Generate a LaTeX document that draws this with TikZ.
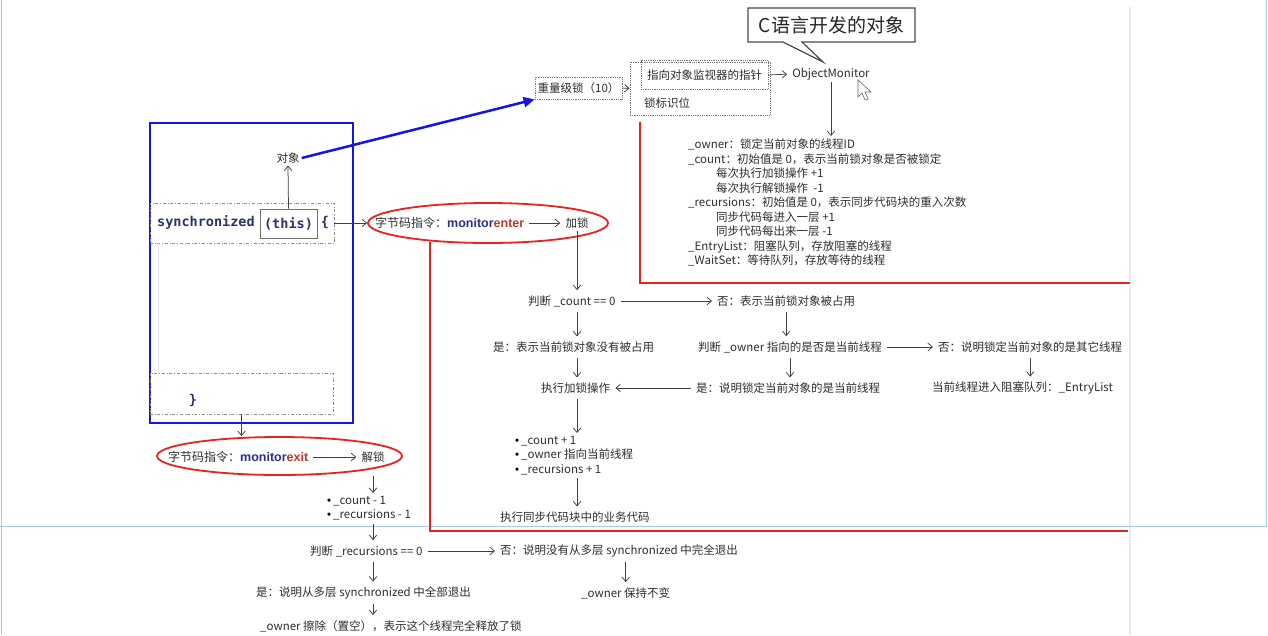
\documentclass[tikz,border=0pt]{standalone}
\usepackage{fontspec}
\setmainfont{Noto Sans CJK SC}
\setmonofont{DejaVu Sans Mono}
\newfontfamily\kwfont{Liberation Sans}
\usepackage{tikz}
\usetikzlibrary{shapes.geometric, arrows.meta, positioning}

\definecolor{txtgray}{HTML}{2E2E2E}
\definecolor{codeblue}{HTML}{2B3463}
\definecolor{kwblue}{HTML}{2A2F8C}
\definecolor{kwred}{HTML}{C0392B}
\definecolor{markred}{HTML}{E8231D}
\definecolor{markblue}{HTML}{1414E6}
\definecolor{edgeblue}{HTML}{A8C8E8}
\newcommand{\dotitem}{{\kwfont\color{black}\textbullet}\,}

\begin{document}
\begin{tikzpicture}[
    x=1pt, y=-1pt,
    every node/.style={font=\fontsize{11.5}{14.5}\selectfont, text=txtgray, inner sep=2pt},
    lbl/.style={anchor=west},
    lines/.style={anchor=north west, align=left, inner sep=0pt},
    code/.style={font=\fontsize{13.5}{16}\selectfont\ttfamily\bfseries, text=codeblue, inner sep=0pt},
    arrow/.style={-{Straight Barb[length=4.5pt,width=7.5pt]}, draw=black!75, line width=0.75pt, shorten >=3pt, shorten <=3pt},
    codebox/.style={rectangle, draw=black!45, dash dot, line width=0.6pt},
    markbox/.style={rectangle, draw=black!55, densely dotted, line width=0.8pt},
    redell/.style={ellipse, draw=markred, line width=1.8pt},
    redline/.style={draw=markred, line width=2pt}
]
\fill[white] (0,0) rectangle (1268,635);
\useasboundingbox (0,0) rectangle (1268,635);

% window edges of the screenshot
\draw[black!25, line width=0.8pt] (1.5,0) -- (1.5,635);
\draw[black!8, line width=1.5pt] (1130,7) -- (1130,635);
\draw[edgeblue, line width=0.8pt] (0,526) -- (1266,526) -- (1266,0);

% Code block
\node (blk) [rectangle, draw=markblue, line width=2.5pt, minimum width=203, minimum height=300] at (251.5,273) {};
\node (hdr) [codebox, minimum width=184, minimum height=40] at (242,223) {};
\node (ftr) [codebox, minimum width=183, minimum height=41] at (241.5,393.5) {};
\draw[black!10, line width=0.6pt] (158,243) -- (158,373);
\node (synkw) [code, anchor=west] at (157,222) {synchronized};
\node (this) [code, rectangle, draw=black!55, line width=0.8pt, minimum width=57, minimum height=29] at (288.5,223.5) {(this)};
\node (lbrace) [code] at (325,222) {\{};
\node (rbrace) [code] at (193,400) {\}};
\node (obj) at (288,158) {对象};

% Mark word and monitor
\node (title) [font=\fontsize{19}{22}\selectfont, text=black!85] at (831.5,25) {C语言开发的对象};
\draw[black!70, line width=1.2pt] (748,8) -- (915,8) -- (915,42) -- (802,42) -- (823,62) -- (783,42) -- (748,42) -- cycle;
\node (heavy) [markbox, minimum width=87, minimum height=22] at (578.5,88) {重量级锁（10）};
\node (mword) [markbox, minimum width=140, minimum height=53] at (700,88.5) {};
\node (ptr) [markbox, minimum width=127, minimum height=29] at (704.5,75) {指向对象监视器的指针};
\node (flag) at (667,103) {锁标识位};
\node (objmon) at (831,74) {ObjectMonitor};
\draw[black!60, fill=white, line width=0.6pt] (858,80) -- (858,97) -- (862,93) -- (865,100) -- (868,99) -- (865,92) -- (871,92) -- cycle;
\node (fields) [lines] at (688,139) {\_owner：锁定当前对象的线程ID\\
\_count：初始值是 0，表示当前锁对象是否被锁定\\
\hspace*{28pt}每次执行加锁操作 +1\\
\hspace*{28pt}每次执行解锁操作 \ -1\\
\_recursions：初始值是 0，表示同步代码块的重入次数\\
\hspace*{28pt}同步代码每进入一层 +1\\
\hspace*{28pt}同步代码每出来一层 -1\\
\_EntryList：阻塞队列，存放阻塞的线程\\
\_WaitSet：等待队列，存放等待的线程};

% monitorenter
\node (enterell) [redell, minimum width=240, minimum height=40] at (488,223) {};
\node (enterins) [lbl, font=\fontsize{12}{14}\selectfont] at (373,223) {字节码指令：{\kwfont\bfseries\fontsize{12.5}{14}\selectfont\color{kwblue}monitor\color{kwred}enter}};
\node (lock) at (577,223) {加锁};
\node (count0) [lbl] at (526,301) {判断 \_count == 0};
\node (countno) [lbl] at (715,301) {否：表示当前锁对象被占用};
\node (countyes) [lbl] at (491,347) {是：表示当前锁对象没有被占用};
\node (ownerchk) [lbl] at (696,347) {判断 \_owner 指向的是否是当前线程};
\node (ownerno) [lbl] at (936,347) {否：说明锁定当前对象的是其它线程};
\node (lockop) [lbl] at (539,388) {执行加锁操作};
\node (owneryes) [lbl] at (694,388) {是：说明锁定当前对象的是当前线程};
\node (blocked) [lbl] at (930,388) {当前线程进入阻塞队列：\_EntryList};
\node (incr) [lines] at (515,436) {\dotitem\_count + 1\\\dotitem\_owner 指向当前线程\\\dotitem\_recursions + 1};
\node (runcode) [lbl] at (498,517) {执行同步代码块中的业务代码};

% monitorexit
\node (exitell) [redell, minimum width=245, minimum height=38] at (279.5,456) {};
\node (exitins) [lbl, font=\fontsize{12}{14}\selectfont] at (166,457) {字节码指令：{\kwfont\bfseries\fontsize{12.5}{14}\selectfont\color{kwblue}monitor\color{kwred}exit}};
\node (unlock) at (373,457) {解锁};
\node (decr) [lines] at (327,496) {\dotitem\_count - 1\\\dotitem\_recursions - 1};
\node (reccheck) [lbl] at (308,551) {判断 \_recursions == 0};
\node (recno) [lbl] at (498,551) {否：说明没有从多层 synchronized 中完全退出};
\node (recyes) [lbl] at (254,593) {是：说明从多层 synchronized 中全部退出};
\node (keepown) [lbl] at (579,593) {\_owner 保持不变};
\node (release) [lbl] at (258,626) {\_owner 擦除（置空），表示这个线程完全释放了锁};

% red marks
\draw[redline] (640,122) -- (640,283) -- (1130,283);
\draw[redline] (430,242) -- (430,531) -- (1128,531);

% Arrows
\draw[markblue, line width=2.5pt, -{Triangle[length=11pt,width=10pt]}] (obj.east) -- (heavy.south west);
\draw[arrow, shorten <=0pt, shorten >=0pt] (this.north) -- (obj.south);
\draw[arrow, shorten <=0pt, shorten >=0pt] (hdr.east) -- (enterell.west);
\draw[arrow, shorten <=0pt, shorten >=0pt] (heavy.east) -- (mword.west);
\draw[arrow, shorten <=0pt] (ptr.east) -- (objmon.west);
\draw[arrow, shorten <=0pt] (objmon.south) -- (objmon.south |- fields.north);
\draw[arrow] (enterins) -- (lock);
\draw[arrow, shorten <=0pt] (lock.south) -- (lock.south |- count0.north);
\draw[arrow] (count0) -- (countno);
\draw[arrow] (lock.south |- count0.south) -- (lock.south |- countyes.north);
\draw[arrow] (countno.south) -- (countno.south |- ownerchk.north);
\draw[arrow] (ownerchk) -- (ownerno);
\draw[arrow] (lock.south |- countyes.south) -- (lock.south |- lockop.north);
\draw[arrow] (ownerchk.south) -- (ownerchk.south |- owneryes.north);
\draw[arrow] (ownerno.south) -- (ownerno.south |- blocked.north);
\draw[arrow] (owneryes) -- (lockop);
\draw[arrow] (lock.south |- lockop.south) -- (lock.south |- incr.north);
\draw[arrow] (lock.south |- incr.south) -- (lock.south |- runcode.north);

\draw[arrow, shorten <=0pt, shorten >=0pt] (ftr.south) -- (ftr.south |- exitell.north);
\draw[arrow] (exitins) -- (unlock);
\draw[arrow, shorten <=0pt] (unlock.south |- exitell.south) -- (unlock.south |- decr.north);
\draw[arrow] (unlock.south |- decr.south) -- (unlock.south |- reccheck.north);
\draw[arrow] (reccheck) -- (recno);
\draw[arrow] (unlock.south |- reccheck.south) -- (unlock.south |- recyes.north);
\draw[arrow] (keepown.north |- recno.south) -- (keepown.north);
\draw[arrow] (unlock.south |- recyes.south) -- (unlock.south |- release.north);

\end{tikzpicture}
\end{document}
